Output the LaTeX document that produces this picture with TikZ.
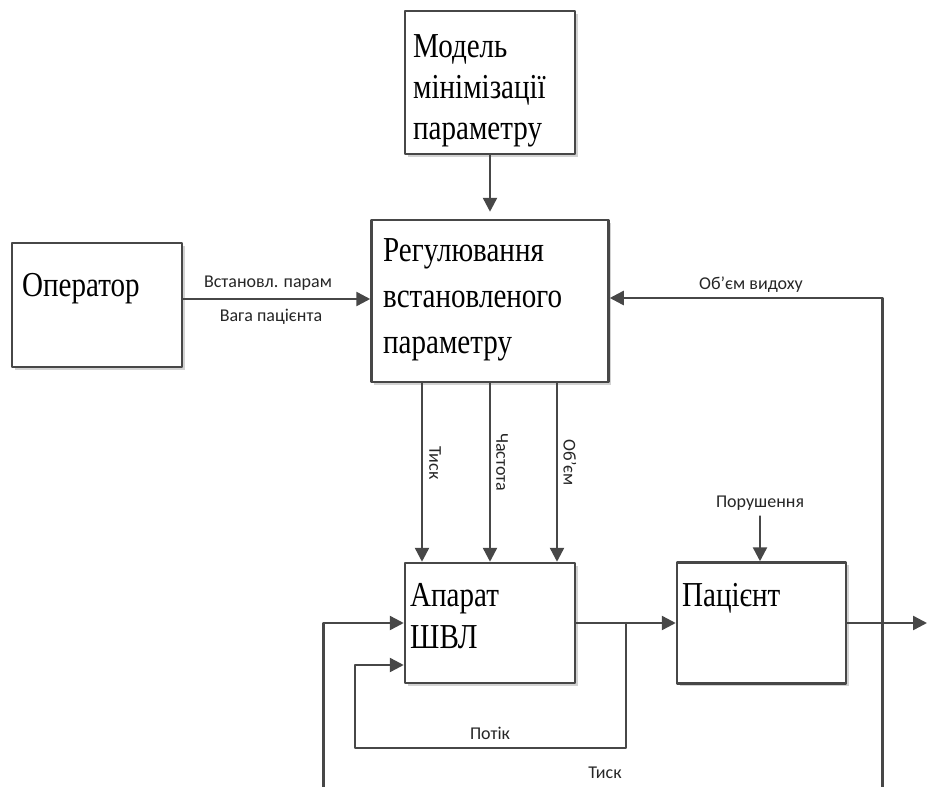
\documentclass[tikz,border=0pt]{standalone}
\usepackage{fontspec}
\setmainfont{Liberation Serif}
\newfontfamily\boxfont[FakeStretch=0.83]{Liberation Serif}
\newfontfamily\lblfont{Carlito}
\usetikzlibrary{arrows.meta,calc,shadows}

\begin{document}
\begin{tikzpicture}[line cap=round,line join=round,>={Triangle[length=14pt,width=14pt]},x=1pt,y=-1pt,
  block/.style={rectangle,draw=black!72,line width=2.5pt,fill=white,inner sep=0pt,
    drop shadow={shadow xshift=2.5pt,shadow yshift=-2.5pt,fill=black!25,opacity=0.7}},
  wire/.style={draw=black!72,line width=2.5pt},
  boxtext/.style={inner sep=0pt,align=left,font=\boxfont\fontsize{35}{41}\selectfont},
  lbl/.style={inner sep=0pt,text=black!85,font=\lblfont\fontsize{18}{20}\selectfont}]
\useasboundingbox (0,0) rectangle (927,787);
\clip (0,0) rectangle (927,787);

% boxes
\node[block,minimum width=170pt,minimum height=143pt] (model) at (490,82.5) {};
\node[block,minimum width=237pt,minimum height=162pt] (reg) at (490,301) {};
\node[block,minimum width=170pt,minimum height=124pt] (oper) at (97,305) {};
\node[block,minimum width=170pt,minimum height=120pt] (apparat) at (490,623) {};
\node[block,minimum width=169pt,minimum height=121pt] (patient) at (761.5,623) {};

% box texts
\node[boxtext,anchor=west] (modeltext) at (413,91) {Модель\\мінімізації\\параметру};
\node[boxtext,anchor=west,font=\boxfont\fontsize{35}{46}\selectfont] (regtext) at (383,300) {Регулювання\\встановленого\\параметру};
\node[boxtext,anchor=base west] (opertext) at (22,296.5) {Оператор};
\node[boxtext,anchor=west,font=\boxfont\fontsize{35}{42}\selectfont] (apparattext) at (410,616) {Апарат\\ШВЛ};
\node[boxtext,anchor=base west] (patienttext) at (682,606.5) {Пацієнт};

% labels
\node[lbl] (setpar) at (268,283) {Встановл. парам};
\node[lbl] (weight) at (271,317) {Вага пацієнта};
\node[lbl,rotate=-90] (press) at (435,463) {Тиск};
\node[lbl,rotate=-90] (freq) at (502,462) {Частота};
\node[lbl,rotate=-90] (vol) at (570,463) {Об’єм};
\node[lbl] (expvol) at (751,285) {Об’єм видоху};
\node[lbl] (dist) at (760,503) {Порушення};
\node[lbl] (flow) at (490,733) {Потік};
\node[lbl] (press2) at (605,773) {Тиск};

\coordinate (out) at (927,623);
\coordinate (split) at ($(apparat.east)!0.5!(patient.west)$);
\coordinate (tap) at ($(patient.east)+(35,0)$);

% connectors
\draw[wire,->,shorten >=7pt] (model.south) -- (model.south |- reg.north);
\draw[wire,->] ($(oper.east)+(0,-6)$) -- ($(reg.west)+(0,-2)$);
\foreach \dx in {-68,0,67}
  \draw[wire,->] ($(reg.south)+(\dx,0)$) -- ($(apparat.north)+(\dx,0)$);
\draw[wire,->] (apparat.east) -- (patient.west);
\draw[wire,->] (patient.east) -- (out);
\draw[wire,->,shorten <=6pt] (dist.south) -- (dist.south |- patient.north);
\draw[wire,->] (split) -- ++(0,125) -- ++(-271,0) -- ++(0,-83) -- ($(apparat.west)+(0,42)$);
\draw[wire,->] (tap) -- ++(0,-325) -- ($(reg.east)+(0,-3)$);
\draw[wire,->] (tap) -- ++(0,180) -- ++(-559,0) -- ++(0,-180) -- (apparat.west);
\end{tikzpicture}
\end{document}
